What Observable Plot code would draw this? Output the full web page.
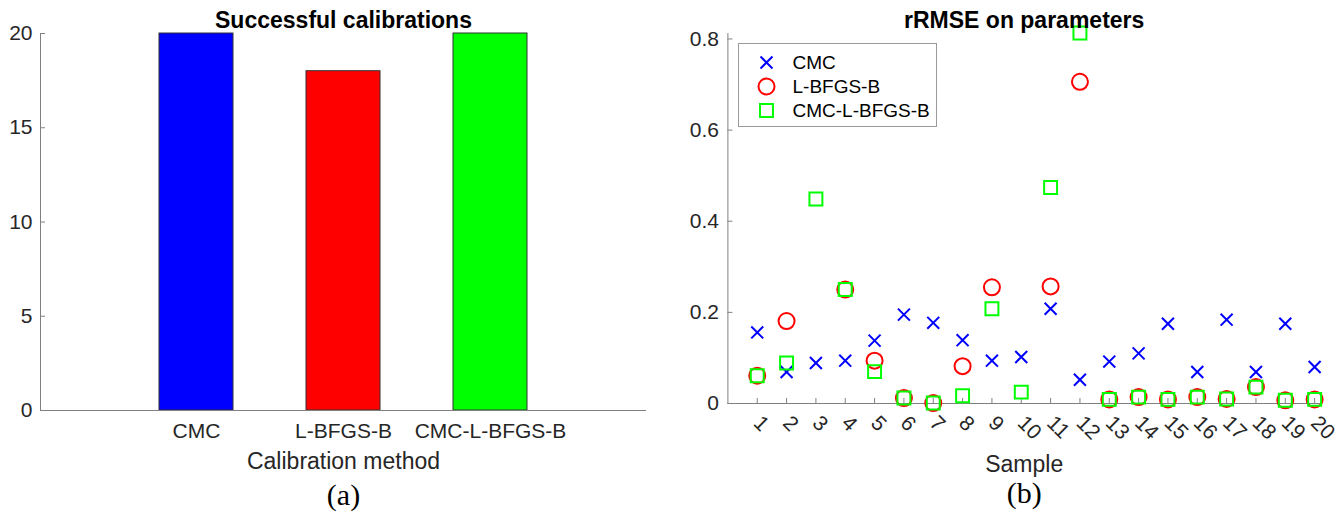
<!DOCTYPE html>
<html>
<head>
<meta charset="utf-8">
<script src="https://cdn.jsdelivr.net/npm/d3@7"></script>
<script src="https://cdn.jsdelivr.net/npm/@observablehq/plot@0.6"></script>
<style>
  html, body { margin: 0; padding: 0; background: #fff; }
  #wrap { position: relative; width: 1341px; height: 520px; background: #fff; overflow: hidden; }
  #wrap > * { position: absolute; }
</style>
</head>
<body>
<div id="wrap"></div>
<script>
// ---- Panel (a) data ----
const methods = ["CMC", "L-BFGS-B", "CMC-L-BFGS-B"];
const successCounts = [20, 18, 20];
const methodColors = ["#0000ff", "#ff0000", "#00ff00"];
const yTicksA = [0, 5, 10, 15, 20];

// ---- Panel (b) data ----
const samples = [1,2,3,4,5,6,7,8,9,10,11,12,13,14,15,16,17,18,19,20];
const rrmseCMC    = [0.156,0.069,0.089,0.094,0.138,0.195,0.177,0.139,0.094,0.102,0.208,0.052,0.092,0.110,0.175,0.069,0.184,0.069,0.175,0.080];
const rrmseLBFGSB = [0.061,0.181,null,0.250,0.094,0.012,0.001,0.082,0.255,null,0.257,0.706,0.009,0.014,0.009,0.014,0.010,0.036,0.007,0.009];
const rrmseCombo  = [0.061,0.089,0.449,0.250,0.070,0.012,0.001,0.017,0.208,0.025,0.474,0.813,0.009,0.014,0.009,0.014,0.010,0.036,0.007,0.009];
const yTicksB = [0, 0.2, 0.4, 0.6, 0.8];
const seriesNames = ["CMC", "L-BFGS-B", "CMC-L-BFGS-B"];

const TXT = "#262626";
const AX = "#808080";
const FONT = "'Liberation Sans', Arial, Helvetica, sans-serif";
const SERIF = "'Liberation Serif', 'Times New Roman', serif";

const wrap = document.getElementById("wrap");

// ---------- Panel (a) ----------
const barData = methods.map((m, i) => ({method: m, count: successCounts[i]}));
const plotA = Plot.plot({
  width: 680, height: 520,
  marginLeft: 40, marginRight: 34, marginTop: 33, marginBottom: 110,
  x: {domain: methods, paddingInner: 0.5, paddingOuter: 0.8, label: null},
  y: {domain: [0, 20], label: null},
  color: {domain: methods, range: methodColors},
  style: {fontFamily: FONT, fontSize: "21px", color: TXT, background: "#fff", overflow: "visible"},
  marks: [
    Plot.barY(barData, {x: "method", y: "count", fill: "method", stroke: "#333", strokeWidth: 1}),
    Plot.ruleY([0], {stroke: AX, strokeWidth: 1}),
    Plot.frame({anchor: "left", stroke: AX, strokeWidth: 1}),
    Plot.axisY({ticks: yTicksA, tickSize: -5, tickPadding: 13, stroke: AX, fill: TXT, label: null, fontSize: 21}),
    Plot.axisX({tickSize: 0, tickPadding: 13, fill: TXT, label: null, fontSize: 21}),
    Plot.text(["Successful calibrations"], {frameAnchor: "top", dy: -6, lineAnchor: "bottom", fontWeight: "bold", fontSize: 23, fill: "#000"}),
    Plot.text(["Calibration method"], {frameAnchor: "bottom", dy: 58, lineAnchor: "bottom", fontSize: 23, fill: TXT}),
    Plot.text(["(a)"], {frameAnchor: "bottom", dy: 94, lineAnchor: "bottom", fontSize: 30, fontFamily: SERIF, fill: "#000"})
  ]
});
plotA.style.left = "0px"; plotA.style.top = "0px";
wrap.appendChild(plotA);

// ---------- Panel (b) ----------
const dCMC = samples.map((s, i) => ({sample: s, v: rrmseCMC[i]}));
const dLB = samples.map((s, i) => ({sample: s, v: rrmseLBFGSB[i]})).filter(d => d.v != null);
const dCombo = samples.map((s, i) => ({sample: s, v: rrmseCombo[i]}));

const plotB = Plot.plot({
  width: 661, height: 520,
  marginLeft: 47.4, marginRight: 21, marginTop: 33, marginBottom: 117,
  x: {domain: [0, 20.2], label: null},
  y: {domain: [0, 0.812], label: null},
  style: {fontFamily: FONT, fontSize: "21px", color: TXT, background: "#fff", overflow: "visible"},
  marks: [
    Plot.ruleY([0], {stroke: AX, strokeWidth: 1}),
    Plot.ruleX([0], {stroke: AX, strokeWidth: 1}),
    Plot.axisY({ticks: yTicksB, tickFormat: d => String(d), tickSize: -5, tickPadding: 14, stroke: AX, fill: TXT, label: null, fontSize: 21}),
    Plot.axisX({ticks: samples, tickFormat: d => String(d), tickSize: -5, tickPadding: 21, tickRotate: 45, stroke: AX, fill: TXT, label: null, fontSize: 21}),
    Plot.dot(dCMC, {x: "sample", y: "v", symbol: "times", r: 5.5, stroke: "#0000ff", strokeWidth: 2, fill: "none"}),
    Plot.dot(dLB, {x: "sample", y: "v", symbol: "circle", r: 8, stroke: "#ff0000", strokeWidth: 2, fill: "none"}),
    Plot.dot(dCombo, {x: "sample", y: "v", symbol: "square", r: 7.3, stroke: "#00ff00", strokeWidth: 2, fill: "none"}),
    Plot.text(["rRMSE on parameters"], {frameAnchor: "top", dy: -6, lineAnchor: "bottom", fontWeight: "bold", fontSize: 23, fill: "#000"}),
    Plot.text(["Sample"], {frameAnchor: "bottom", dy: 68, lineAnchor: "bottom", fontSize: 23, fill: TXT}),
    Plot.text(["(b)"], {frameAnchor: "bottom", dy: 99, lineAnchor: "bottom", fontSize: 30, fontFamily: SERIF, fill: "#000"})
  ]
});
plotB.style.left = "680px"; plotB.style.top = "0px";
wrap.appendChild(plotB);

// ---------- Legend (panel b) ----------
const legendSymbols = ["times", "circle", "square"];
const legendColors = ["#0000ff", "#ff0000", "#00ff00"];
const legendR = [5.5, 8, 7.3];
const legendData = seriesNames.map((n, i) => ({name: n, symbol: legendSymbols[i], color: legendColors[i], r: legendR[i]}));
const legend = Plot.plot({
  width: 197, height: 82,
  margin: 0,
  x: {axis: null},
  y: {type: "point", domain: seriesNames, range: [17, 66], padding: 0, axis: null},
  r: {type: "identity"},
  style: {fontFamily: FONT, fontSize: "19px", color: TXT, background: "#fff", border: "1px solid #9a9a9a", overflow: "visible"},
  marks: [
    Plot.dot(legendData, {y: "name", frameAnchor: "left", dx: 27, symbol: "symbol", stroke: "color", r: "r", strokeWidth: 2, fill: "none"}),
    Plot.text(legendData, {y: "name", text: "name", frameAnchor: "left", dx: 53, textAnchor: "start", fontSize: 19, fill: "#000"})
  ]
});
legend.style.left = "738px"; legend.style.top = "43px";
wrap.appendChild(legend);
</script>
</body>
</html>
